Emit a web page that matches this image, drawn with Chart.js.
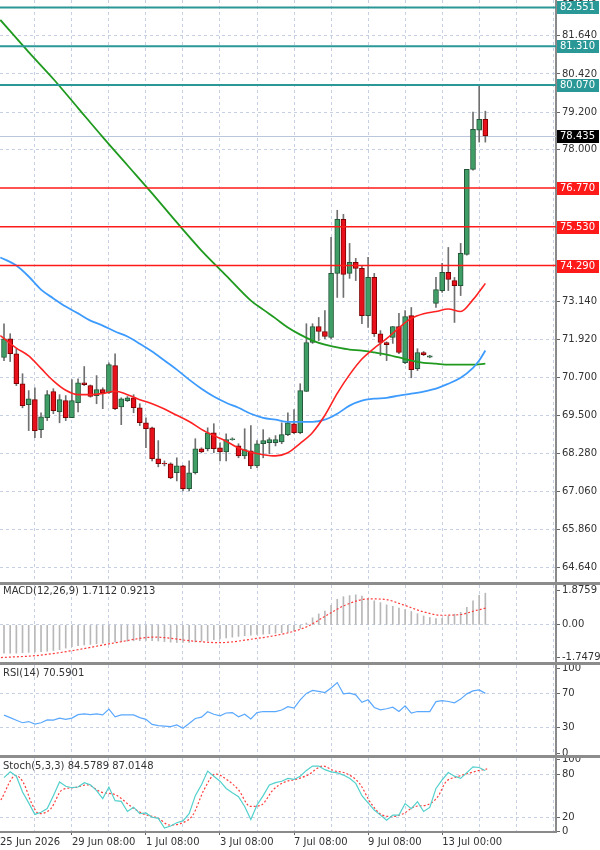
<!DOCTYPE html>
<html>
<head>
<meta charset="utf-8">
<title>Price chart</title>
<style>
  body { margin: 0; background: #fff; font-family: 'DejaVu Sans', sans-serif; }
  #wrap { position: relative; width: 600px; height: 850px; overflow: hidden; background: #fff; }
  .pane { position: absolute; left: 0; width: 600px; }
  .sep { position: absolute; left: 0; width: 600px; height: 3px; background: #8c8c8c; }
  .lbl { position: absolute; left: 3px; font-size: 10px; color: #333; white-space: nowrap; }
</style>
</head>
<body>
<div id="wrap">
  <div class="pane" style="top:0;height:582px"><canvas id="main"></canvas></div>
  <div class="sep" style="top:582px"></div>
  <div class="pane" style="top:585px;height:77px"><canvas id="macd"></canvas></div>
  <div class="sep" style="top:662px"></div>
  <div class="pane" style="top:665px;height:90px"><canvas id="rsi"></canvas></div>
  <div class="sep" style="top:755px"></div>
  <div class="pane" style="top:758px;height:92px"><canvas id="stoch"></canvas></div>
  <div class="lbl" style="top:585px">MACD(12,26,9) 1.7112 0.9213</div>
  <div class="lbl" style="top:667px">RSI(14) 70.5901</div>
  <div class="lbl" style="top:760px">Stoch(5,3,3) 84.5789 87.0148</div>
</div>

<script src="https://cdn.jsdelivr.net/npm/chart.js"></script>
<script>
  // ---- candles (one per bar, index 0..78) ----
  const opens  = [71.35,71.95,71.47,70.51,69.84,70.00,69.04,69.42,70.26,69.61,
                  69.97,69.42,69.90,70.54,70.45,70.13,70.32,70.22,71.09,69.77,
                  69.97,70.06,69.74,69.26,69.10,68.11,67.96,67.95,67.66,67.88,
                  67.15,67.66,68.43,68.43,68.94,68.46,68.33,68.72,68.52,68.20,
                  68.36,67.88,68.59,68.62,68.62,68.65,68.88,69.23,68.94,70.26,
                  71.83,72.34,72.18,71.99,74.04,75.77,74.04,74.39,74.20,72.69,
                  73.91,72.11,71.83,71.99,72.34,71.18,72.69,70.99,71.51,71.36,
                  73.08,73.49,74.07,73.81,73.65,74.65,77.37,78.62,78.97];
  const highs  = [72.43,72.11,71.63,70.83,70.29,70.38,69.58,70.29,70.35,70.16,
                  70.13,70.64,70.67,71.06,70.47,70.77,70.38,71.18,71.47,70.06,
                  70.10,70.16,69.87,69.42,69.12,68.69,68.04,67.98,68.14,67.90,
                  68.04,68.75,68.46,69.10,69.23,68.62,68.91,68.78,68.59,69.07,
                  69.17,68.69,69.04,68.78,68.85,69.26,69.58,69.68,70.51,72.43,
                  72.43,72.63,72.85,75.19,76.06,75.93,75.00,74.52,74.29,74.55,
                  74.04,72.21,71.85,72.34,72.76,72.85,72.95,71.63,71.54,71.42,
                  73.91,74.36,74.87,73.91,75.00,77.37,79.20,80.06,79.23];
  const lows   = [71.25,71.22,70.45,69.74,69.01,68.78,68.78,69.33,69.55,69.26,
                  69.33,69.42,69.61,70.45,70.08,69.87,69.71,70.19,69.68,69.20,
                  69.94,69.58,69.17,68.46,68.04,67.85,67.88,67.47,67.40,67.08,
                  67.08,67.62,68.30,68.36,68.30,68.04,68.04,68.70,68.14,68.11,
                  67.79,67.82,68.14,68.27,68.52,68.59,68.85,68.91,68.91,70.26,
                  71.80,71.89,71.95,71.95,73.27,73.27,73.88,73.81,72.43,72.31,
                  72.02,71.41,71.25,71.80,71.47,71.15,70.70,70.93,71.41,71.34,
                  72.95,73.43,73.49,72.47,73.33,74.62,77.34,78.24,78.24];
  const closes = [71.95,71.47,70.51,69.81,70.03,69.01,69.45,70.16,69.65,70.00,
                  69.42,69.97,70.54,70.48,70.10,70.32,70.22,71.12,69.71,70.03,
                  70.06,69.74,69.26,69.07,68.11,67.95,67.94,67.50,67.88,67.15,
                  67.66,68.43,68.33,68.94,68.43,68.33,68.72,68.75,68.20,68.40,
                  67.88,68.59,68.69,68.72,68.72,68.88,69.26,68.94,70.29,71.83,
                  72.34,72.18,72.02,74.04,75.77,74.01,74.39,74.20,72.69,73.91,
                  72.11,71.83,71.76,72.34,71.51,72.66,70.96,71.51,71.44,71.40,
                  73.52,74.07,73.85,73.65,74.68,77.37,78.65,78.97,78.435];

  // ---- moving averages (bar index / price) ----
  const redMaIdx = [-0.6,2,4,6,8,10,12,14,16,18,20,22,24,26,28,30,32,34,36,38,40,42,44,46,48,50,52,54,56,58,60,62,64,66,68,70,72,74,76,77,78];
  const redMaVal = [72.05,71.65,71.4,71.0,70.6,70.3,70.16,70.16,70.2,70.27,70.16,70.0,69.87,69.7,69.5,69.3,69.05,68.85,68.67,68.45,68.32,68.24,68.2,68.3,68.6,68.95,69.5,70.2,70.8,71.3,71.65,71.95,72.3,72.6,72.75,72.82,72.9,72.82,73.2,73.45,73.72];
  const blueMaIdx = [-0.6,2,4,6,8,10,12,14,16,18,20,22,24,26,28,30,32,34,36,38,40,42,44,46,48,50,52,54,56,58,60,62,64,66,68,70,72,74,76,77,78];
  const blueMaVal = [74.55,74.29,73.94,73.52,73.24,72.98,72.76,72.53,72.37,72.18,72.02,71.79,71.54,71.25,70.96,70.64,70.35,70.10,69.90,69.74,69.55,69.42,69.36,69.29,69.29,69.29,69.36,69.55,69.81,69.97,70.03,70.06,70.13,70.19,70.26,70.35,70.51,70.70,71.02,71.25,71.57];
  const greenMaIdx = [-0.6,4,8,12,16,20,24,28,32,36,40,42,44,46,48,50,52,54,56,58,60,62,64,66,68,70,72,74,76,78];
  const greenMaVal = [82.15,81.12,80.26,79.33,78.40,77.50,76.60,75.67,74.77,73.97,73.17,72.88,72.60,72.31,72.08,71.89,71.76,71.67,71.60,71.57,71.51,71.44,71.35,71.25,71.18,71.15,71.12,71.12,71.12,71.15];

  // ---- horizontal levels ----
  const resLevels = [82.551, 81.310, 80.070];
  const supLevels = [76.770, 75.530, 74.290];
  const lastPrice = 78.435;

  // ---- MACD ----
  const macdHist = [-1.52,-1.53,-1.52,-1.50,-1.48,-1.46,-1.44,-1.42,-1.38,-1.34,
                    -1.25,-1.18,-1.12,-1.08,-1.05,-1.02,-0.99,-0.95,-0.92,-0.90,
                    -0.88,-0.86,-0.85,-0.84,-0.85,-0.87,-0.90,-0.93,-0.95,-0.95,
                    -0.94,-0.92,-0.88,-0.85,-0.80,-0.75,-0.70,-0.66,-0.62,-0.58,
                    -0.55,-0.52,-0.50,-0.48,-0.45,-0.42,-0.39,-0.33,-0.18,0.10,
                    0.38,0.59,0.75,1.05,1.38,1.52,1.58,1.62,1.55,1.42,
                    1.30,1.20,1.08,1.00,0.90,0.82,0.72,0.60,0.48,0.40,
                    0.34,0.36,0.48,0.58,0.68,0.95,1.30,1.60,1.71];
  const macdSigIdx = [-0.5,5.7,11.9,18.1,24.4,30.6,34.9,39.9,46.1,49.2,52.3,55.4,59.1,61.6,64.7,67.8,70.9,74,76.5,78.3];
  const macdSigVal = [-1.76,-1.64,-1.34,-0.96,-0.66,-0.87,-0.96,-0.78,-0.42,-0.08,0.52,1.08,1.40,1.38,1.08,0.72,0.52,0.56,0.78,0.92];

  // ---- RSI(14) ----
  const rsiVals = [45,42,39,36,37.4,34.5,36,39.4,39,41.4,
                   40,41.5,45.5,46.5,45.5,46.5,45.3,52,43,45.3,
                   45.3,45.3,42,40,34,32.5,32,31.5,33.5,29.6,
                   35,41,42.6,49,46,44.1,47.5,48,43,46,
                   40.5,48,49.2,49.2,49.2,51,55,53.2,63,70.5,
                   74,73,71.5,77,83.3,70,70.8,68.8,60,63,
                   54,51.2,52.5,54.3,49.2,55.9,47.3,49.2,49.2,49.2,
                   60.9,62.1,61,59.5,63.8,70,73.5,74.7,70.6];

  // ---- Stochastic(5,3,3) ----
  const stochMain = [75,83,77,55,40,24,27,32,50,69,
                     63,61,62,68,65,57,46,62,43,42,
                     28,34,25,26,20,18.5,5,8,12.5,15,
                     25,50,65,84,77,70,60,54,48.5,35,
                     17,37,50,64.7,68,70,74,72.5,77,85,
                     91,91,86,83,81.7,78.5,74,67,50,40,
                     30,23,16,23,23,39,32,41.6,28,33.7,
                     60,72,82,77,74,82,90,89,84.6];
  const stochSigIdx = [-0.5,1.9,3.2,4.5,5.7,7.6,9.4,11.3,13.5,15.7,18.1,20.6,22.5,25,26.8,28.7,30.6,32.4,34.3,36.2,38,39.9,41.7,43.6,45.5,47.3,49.2,51.7,53.5,55.4,57.6,59.5,61.3,62.9,64.7,66.6,68.5,70.3,71.6,73.4,75.3,77.2,78.3];
  const stochSigVal = [44,78,67,39,25,32,58,61,65,55,51,35,25,18.5,9.3,11.6,23,58,80,71.6,58,35,37,58,69,72.5,78.5,91,84.5,81,67,39,23,21,25,35,37,48.5,69,76,81,85.4,87];

  // ---- time axis ----
  const xStartIdx = -0.65;
  const xStartText = '25 Jun 2026';
  const tickIdx = [11, 23, 35, 47, 59, 71];
  const tickText = ['29 Jun 08:00', '1 Jul 08:00', '3 Jul 08:00', '7 Jul 08:00', '9 Jul 08:00', '13 Jul 00:00'];
  const gridIdx = [5, 11, 17, 23, 29, 35, 41, 47, 53, 59, 65, 71, 77, 83, 89];

  const mainTicks = [82.840, 81.640, 80.420, 79.200, 78.000, 73.140, 71.920, 70.700, 69.500, 68.280, 67.060, 65.860, 64.640];

  const X_MIN = -0.65, X_MAX = 89.45;
  const GRID = '#c5d0e4';

  Chart.defaults.font.family = "'DejaVu Sans', sans-serif";
  Chart.defaults.font.size = 10;
  Chart.defaults.color = '#333';

  function labelFor(v) {
    if (v === xStartIdx) return xStartText;
    const k = tickIdx.indexOf(v);
    return k >= 0 ? tickText[k] : '';
  }

  function xScale(showLabels) {
    return {
      type: 'linear', min: X_MIN, max: X_MAX, offset: false,
      grid: {
        offset: false,
        color: c => (c.tick && c.tick.value < 0) ? 'transparent' : GRID,
        drawTicks: showLabels, tickLength: 3,
        tickColor: c => (c.tick && labelFor(c.tick.value) && c.tick.value >= 0) ? '#666' : 'transparent'
      },
      border: { display: showLabels, color: '#8a8a8a', width: 2, dash: [3, 3] },
      ticks: { display: showLabels, autoSkip: false, maxRotation: 0, align: 'start', padding: 1, callback: v => labelFor(v) },
      afterBuildTicks: s => { s.ticks = [xStartIdx].concat(gridIdx).map(v => ({ value: v })); },
      afterFit: s => { s.paddingLeft = 0; s.paddingRight = 0; s.height = showLabels ? 18 : 0; }
    };
  }

  function yScale(min, max, ticks, fmt, gridAt) {
    return {
      position: 'right', min: min, max: max,
      afterBuildTicks: s => { s.ticks = ticks.map(v => ({ value: v })); },
      ticks: { callback: fmt, padding: 2, autoSkip: false },
      grid: {
        color: c => (c.tick && gridAt(c.tick.value)) ? GRID : 'transparent',
        drawTicks: true, tickLength: 4, tickColor: '#666'
      },
      border: { display: true, color: '#8a8a8a', width: 2, dash: [3, 3] },
      afterFit: s => { s.width = 44; s.paddingTop = 0; s.paddingBottom = 0; }
    };
  }

  const baseOpts = {
    responsive: true, maintainAspectRatio: false, animation: false,
    layout: { padding: 0 },
    plugins: { legend: { display: false }, tooltip: { enabled: false } }
  };

  function pairs(idx, vals) { return idx.map((x, i) => ({ x: x, y: vals[i] })); }

  // price levels and their boxes on the axis
  const levelPlugin = {
    id: 'levels',
    beforeDatasetsDraw(chart) {
      const { ctx, chartArea, scales: { y } } = chart;
      const py = Math.round(y.getPixelForValue(lastPrice)) + 0.5;
      ctx.save();
      ctx.strokeStyle = '#b9c6dc';
      ctx.lineWidth = 1;
      ctx.beginPath(); ctx.moveTo(chartArea.left, py); ctx.lineTo(chartArea.right, py); ctx.stroke();
      ctx.restore();
    },
    afterDatasetsDraw(chart) {
      const { ctx, chartArea, scales: { y } } = chart;
      ctx.save();
      const line = (v, color, w) => {
        const py = y.getPixelForValue(v);
        ctx.strokeStyle = color; ctx.lineWidth = w;
        ctx.beginPath(); ctx.moveTo(chartArea.left, py); ctx.lineTo(chartArea.right, py); ctx.stroke();
      };
      resLevels.forEach(v => line(v, '#2a9896', 2));
      supLevels.forEach(v => line(v, '#ff1a1a', 1.5));
      ctx.restore();
    },
    afterDraw(chart) {
      const { ctx, chartArea, scales: { y } } = chart;
      ctx.save();
      ctx.font = "10px 'DejaVu Sans'";
      ctx.textBaseline = 'middle';
      const box = (v, bg) => {
        const py = y.getPixelForValue(v);
        ctx.fillStyle = bg;
        ctx.fillRect(chartArea.right + 1, Math.round(py) - 6, 42, 13);
        ctx.fillStyle = '#fff';
        ctx.fillText(v.toFixed(3), chartArea.right + 4, Math.round(py) + 0.5);
      };
      resLevels.forEach(v => box(v, '#2a9896'));
      supLevels.forEach(v => box(v, '#ff1a1a'));
      box(lastPrice, '#000');
      ctx.restore();
    }
  };

  // ---- main price chart ----
  new Chart(document.getElementById('main'), {
    type: 'bar',
    data: {
      datasets: [
        { type: 'line', data: pairs(redMaIdx, redMaVal), borderColor: '#ff2222', borderWidth: 1.6, pointRadius: 0, cubicInterpolationMode: 'monotone', order: 0 },
        { type: 'line', data: pairs(blueMaIdx, blueMaVal), borderColor: '#3d9bff', borderWidth: 1.8, pointRadius: 0, cubicInterpolationMode: 'monotone', order: 0 },
        { type: 'line', data: pairs(greenMaIdx, greenMaVal), borderColor: '#1f9a1f', borderWidth: 1.8, pointRadius: 0, cubicInterpolationMode: 'monotone', order: 0 },
        {
          data: opens.map((o, i) => ({ x: i, y: [opens[i], closes[i]] })),
          backgroundColor: opens.map((o, i) => closes[i] >= o ? '#3f9e66' : '#e8101a'),
          borderColor: opens.map((o, i) => closes[i] >= o ? '#24573a' : '#7d0000'),
          borderWidth: 1, borderSkipped: false, barThickness: 5, grouped: false, order: 1
        },
        {
          data: lows.map((l, i) => ({ x: i, y: [l, highs[i]] })),
          backgroundColor: '#707070', barThickness: 1, grouped: false, order: 2
        }
      ]
    },
    options: Object.assign({}, baseOpts, {
      scales: {
        x: xScale(false),
        y: yScale(64.166, 82.787, mainTicks, v => v.toFixed(3), v => v < 82.8)
      }
    }),
    plugins: [levelPlugin]
  });

  // ---- MACD ----
  new Chart(document.getElementById('macd'), {
    type: 'bar',
    data: {
      datasets: [
        { type: 'line', data: pairs(macdSigIdx, macdSigVal), borderColor: '#ff3b3b', borderWidth: 1.2, borderDash: [2, 2], pointRadius: 0, cubicInterpolationMode: 'monotone', order: 0 },
        { data: macdHist.map((v, i) => ({ x: i, y: v })), backgroundColor: '#b8b8b8', barThickness: 1, grouped: false, order: 1 }
      ]
    },
    options: Object.assign({}, baseOpts, {
      scales: {
        x: xScale(false),
        y: yScale(-2.0, 2.15, [-1.7479, 0, 1.8759], v => v === 0 ? '0.00' : v.toFixed(4), v => v === 0)
      }
    })
  });

  // ---- RSI ----
  new Chart(document.getElementById('rsi'), {
    type: 'line',
    data: {
      datasets: [
        { data: rsiVals.map((v, i) => ({ x: i, y: v })), borderColor: '#5aa8ff', borderWidth: 1.2, pointRadius: 0, tension: 0 }
      ]
    },
    options: Object.assign({}, baseOpts, {
      scales: {
        x: xScale(false),
        y: yScale(-2, 104, [0, 30, 70, 100], v => String(v), v => v === 30 || v === 70)
      }
    })
  });

  // ---- Stochastic ----
  new Chart(document.getElementById('stoch'), {
    type: 'line',
    data: {
      datasets: [
        { data: stochMain.map((v, i) => ({ x: i, y: v })), borderColor: '#52d0cc', borderWidth: 1.2, pointRadius: 0, tension: 0 },
        { data: pairs(stochSigIdx, stochSigVal), borderColor: '#ff3b3b', borderWidth: 1.2, borderDash: [2, 2], pointRadius: 0, cubicInterpolationMode: 'monotone' }
      ]
    },
    options: Object.assign({}, baseOpts, {
      scales: {
        x: xScale(true),
        y: yScale(-0.4, 102.2, [0, 20, 80, 100], v => String(v), v => v === 20 || v === 80)
      }
    })
  });
</script>
</body>
</html>
